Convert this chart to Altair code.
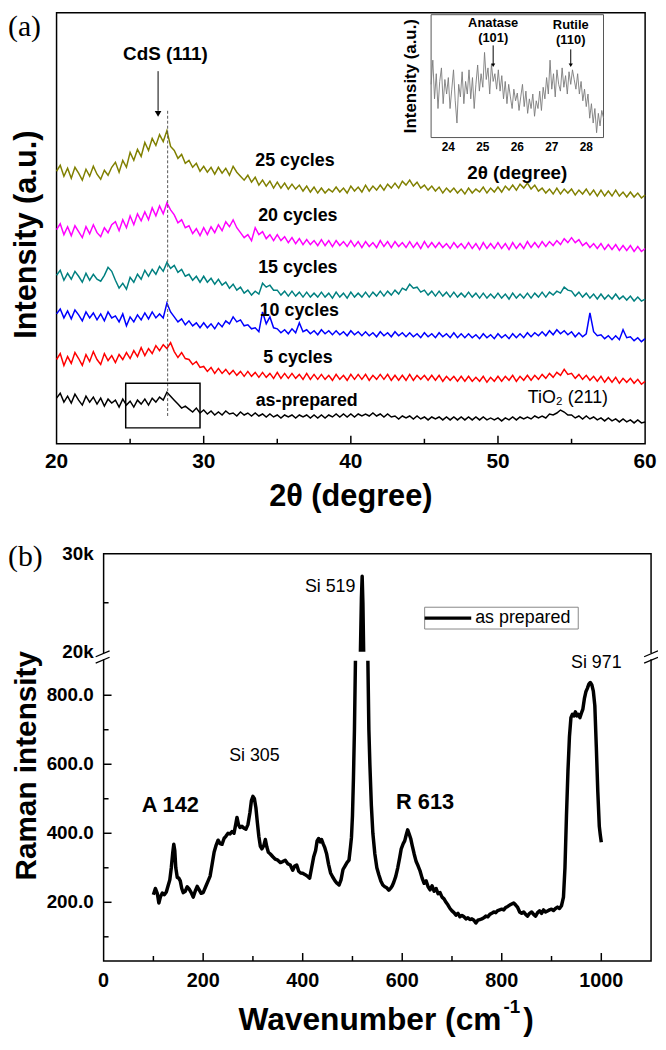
import altair as alt
import pandas as pd

FONT = "Liberation Sans"
SERIF = "Liberation Serif"

# ---------------- panel (a): XRD patterns ----------------
DEG = [round(20 + 0.25 * i, 2) for i in range(161)]

XRD_25 = [275,281,270,278, 268,279,273,266, 277,270,280,272, 267,276,271,279, 284,274,286,279,
          294,286,297,290, 304,296,308,301, 312,305,316,300, 296,288,292,283, 286,279,283,275,
          280,274,279,272, 279,273,278,271, 280,274,270,266, 271,264,269,261, 266,260,265,258,
          264,258,263,257, 262,257,261,255, 260,254,259,253, 258,253,257,254, 259,254,258,253,
          260,255,259,254, 261,255,260,256, 261,256,262,258, 263,258,265,261, 266,260,264,258,
          261,256,260,255, 259,253,258,254, 258,253,257,252, 258,253,257,254, 259,253,258,254,
          259,254,260,256, 261,256,262,258, 263,257,261,255, 258,253,257,252, 258,252,257,253,
          257,251,256,252, 257,251,256,250, 256,250,255,250, 256,250,254,249, 254,249,253,248, 251]
XRD_20 = [216,222,211,219, 210,220,214,208, 219,212,221,213, 209,218,213,221, 224,215,226,218,
          230,221,232,225, 234,226,238,230, 240,232,243,236, 231,223,226,218, 220,212,217,210,
          218,211,219,213, 221,215,224,219, 226,218,213,208, 211,205,218,211, 214,207,211,205,
          211,205,209,203, 208,202,207,201, 206,201,205,200, 206,200,205,199, 205,200,204,199,
          205,199,204,198, 204,199,203,198, 205,199,204,198, 204,199,203,198, 204,198,203,197,
          204,198,203,198, 203,198,202,197, 203,198,202,197, 203,197,202,196, 203,197,202,197,
          203,197,202,196, 203,197,202,197, 204,198,203,198, 204,199,204,200, 205,201,207,203,
          208,203,206,200, 203,198,202,197, 202,196,201,196, 201,195,200,195, 200,194,199,194, 197]
XRD_15 = [170,175,165,172, 166,174,169,163, 172,165,171,166, 164,170,178,174, 165,157,162,156,
          168,163,171,166, 175,169,176,171, 179,174,183,177, 180,173,176,169, 171,165,169,163,
          169,163,167,161, 166,160,163,157, 161,155,158,152, 155,150,154,151, 162,158,160,155,
          155,150,154,149, 154,149,153,148, 153,148,152,148, 153,148,152,147, 153,148,152,147,
          153,148,152,148, 153,148,153,149, 154,149,154,150, 155,151,157,155, 161,157,158,153,
          155,150,154,149, 154,149,153,148, 153,148,152,148, 153,148,152,147, 152,147,151,147,
          152,147,151,146, 152,147,151,147, 152,147,152,148, 153,148,153,150, 154,152,158,155,
          154,149,153,148, 152,147,151,146, 151,146,150,146, 151,146,149,145, 149,144,148,144, 146]
XRD_10 = [131,136,127,134, 126,135,130,124, 133,127,132,125, 131,124,133,127, 129,123,131,119,
          128,123,130,125, 132,126,133,127, 131,127,142,133, 128,123,126,120, 124,119,122,117,
          122,117,121,116, 122,118,124,121, 128,123,125,119, 120,116,117,113, 133,121,128,117,
          116,112,115,111, 116,112,122,113, 115,111,114,110, 115,111,114,110, 114,110,113,109,
          114,110,113,109, 113,109,112,108, 113,109,112,108, 113,109,112,108, 112,108,111,107,
          112,108,111,107, 112,108,111,107, 112,107,111,107, 111,107,110,106, 111,107,110,106,
          111,107,110,106, 111,107,111,107, 112,108,112,109, 113,109,114,110, 115,111,114,110,
          113,108,112,108, 111,132,113,109, 110,106,109,105, 109,105,115,107, 108,104,107,103, 106]
XRD_5 = [85,91,79,88, 81,92,86,79, 90,83,93,85, 80,91,84,89, 82,90,85,92,
         86,94,88,97, 89,96,91,99, 94,100,96,102, 93,87,92,86, 85,80,83,77,
         78,73,77,71, 76,71,75,70, 74,69,73,68, 73,68,72,67, 72,67,71,66,
         72,66,71,66, 71,66,70,65, 71,65,70,65, 70,65,69,64, 70,65,69,64,
         70,65,70,65, 70,64,69,65, 70,65,70,64, 69,64,69,64, 70,64,69,65,
         69,64,69,64, 69,63,68,64, 68,63,68,63, 68,63,67,63, 68,62,67,63,
         68,63,68,64, 69,63,68,64, 69,64,69,65, 70,66,71,67, 72,69,75,70,
         71,66,70,65, 69,64,68,63, 68,62,67,62, 67,61,66,62, 66,61,65,60, 63]
XRD_0 = [46,51,42,48, 41,50,44,39, 48,42,47,40, 46,38,45,41, 44,37,45,39,
         43,37,44,40, 45,39,46,42, 47,44,52,48, 44,40,36,38, 35,32,36,31,
         34,30,33,29, 32,29,33,30, 31,28,32,29, 31,28,31,28, 30,27,30,27,
         29,26,29,27, 29,26,29,27, 29,26,29,26, 29,26,29,27, 30,27,30,27,
         30,27,30,28, 30,28,31,28, 30,27,30,27, 28,25,28,26, 28,25,28,25,
         27,24,27,25, 27,24,27,24, 27,24,27,24, 27,24,27,24, 27,24,26,24,
         26,23,26,24, 27,24,27,25, 27,25,28,26, 28,26,30,29, 31,34,32,29,
         29,26,28,25, 28,25,27,24, 26,23,26,23, 25,22,25,22, 24,21,24,21, 22]

SERIES = ["25 cycles", "20 cycles", "15 cycles", "10 cycles", "5 cycles", "as-prepared"]
SERIES_COLORS = ["#808000", "#FF00FF", "#008080", "#0000FF", "#FF0000", "#000000"]
LABEL_DEG = [36.2, 36.4, 36.4, 36.5, 36.4, 37.0]
LABEL_V = [285, 230, 177, 134, 86, 43]

XA_LABELS = [20, 30, 40, 50, 60]
XA_MAJOR_IN = [30, 40, 50]
XA_MINOR_IN = [25, 35, 45, 55]

BOX_DEG = [24.7, 29.75]
BOX_V = [16, 61]
REF_DEG = 27.55
REF_V = [28, 336]
CDS_DEG = 26.9
CDS_V = [376, 336]
CDS_TEXT = (27.4, 393)
TIO2_TEXT = (54.75, 46)

# inset
INSET_DEG = [round(23.5 + 0.05 * i, 2) for i in range(101)]
INSET_V = [55, 80, 40, 66, 30, 58, 72, 35, 60, 45,
           62, 30, 50, 70, 38, 15, 55, 42, 68, 35,
           58, 45, 70, 40, 62, 30, 55, 75, 48, 66,
           52, 88, 60, 72, 45, 76, 58, 66, 50, 70,
           48, 64, 40, 58, 35, 55, 42, 30, 50, 38,
           46, 28, 42, 55, 32, 48, 25, 40, 30, 45,
           22, 38, 30, 48, 28, 52, 40, 62, 45, 80,
           50, 66, 42, 70, 55, 48, 72, 52, 64, 45,
           68, 55, 70, 60, 50, 66, 45, 58, 38, 50,
           32, 45, 20, 35, 15, 30, 5, 25, 12, 28,
           20]
INSET_TICKS = [24, 25, 26, 27, 28]
INSET_ARROWS = [25.3, 27.55]

# ---------------- panel (b): Raman spectrum ----------------
RAMAN_A_X = [100,104,108,111,114,118,122,126,130,133,136,139,141,143,145,148,151,154,157,160,
             164,168,172,176,180,184,188,192,196,200,205,210,214,218,222,226,230,234,238,242,
             246,250,254,258,262,266,268,271,274,278,282,286,290,294,297,300,303,306,309,312,
             315,318,322,325,328,331,335,340,345,350,355,360,365,370,375,380,384,388,392,396,
             400,405,410,414,418,422,426,429,432,435,438,441,444,448,452,456,460,465,469,473,
             477,481,485,489,493,496,498,500,502,504,506]
RAMAN_A_Y = [222,240,225,198,215,227,222,230,250,265,300,345,368,350,300,272,270,262,240,228,
             232,245,238,228,215,232,246,236,226,228,245,262,276,310,345,365,380,370,368,385,
             392,400,398,405,400,430,446,425,417,420,415,412,425,460,495,507,500,474,430,390,
             362,355,365,382,360,345,340,332,325,322,315,318,322,312,308,293,305,308,290,285,
             284,280,275,270,300,331,350,378,385,375,382,370,360,341,310,285,274,262,255,250,
             265,295,305,315,322,360,388,450,560,700,900]
RAMAN_B_X = [516, 518, 519.5, 521, 522.5]
RAMAN_B_Y = [20000, 25500, 27700, 25000, 20000]
RAMAN_C_X = [531,533,535,538,541,545,549,553,557,561,565,569,573,577,580,583,587,591,595,598,
             602,605,608,611,614,617,620,624,628,632,636,640,644,648,652,656,660,664,668,672,
             676,680,684,688,692,696,700,704,708,712,716,720,724,728,732,736,740,744,748,752,
             756,760,764,768,772,776,780,784,788,792,796,800,804,808,812,816,820,824,828,832,
             836,840,844,848,852,856,860,864,868,872,876,880,884,888,892,896,900,904,908,912,
             916,920,924,927,930,933,936,939,942,945,948,951,954,957,960,963,966,969,972,975,
             978,981,984,987,990,993,996,998,1000]
RAMAN_C_Y = [900,700,600,480,400,340,300,280,262,250,245,242,235,241,248,258,275,300,330,355,
             370,378,395,410,398,385,365,340,318,305,290,270,255,262,245,236,248,232,240,225,
             228,215,210,200,192,182,175,170,163,168,158,162,158,152,155,150,152,148,140,148,
             150,152,155,160,158,165,168,172,170,176,178,180,178,185,188,192,195,198,192,185,
             172,168,172,165,160,168,172,165,160,170,175,168,178,172,175,178,180,176,182,186,
             182,190,215,300,450,580,680,735,745,740,752,740,745,735,748,760,790,810,820,832,
             837,830,812,770,650,520,420,395,374]

XB_LABELS = [0, 200, 400, 600, 800, 1000]
XB_MAJOR_IN = [200, 400, 600, 800, 1000]
XB_MINOR_IN = [100, 300, 500, 700, 900]
YB_LABELS = [200, 400, 600, 800, 20000, 30000]
YB_LABEL_TEXT = ["200.0", "400.0", "600.0", "800.0", "20k", "30k"]
YB_MAJOR_IN = [200, 400, 600, 800]
YB_MINOR_IN = [100, 300, 500, 700, 25000]

RAMAN_NOTES = ["Si 305", "Si 971"]
RAMAN_NOTES_X = [303, 990]
RAMAN_NOTES_Y = [624, 893]
RAMAN_BOLD_NOTES = ["A 142", "R 613"]
RAMAN_BOLD_X = [134, 646]
RAMAN_BOLD_Y = [483, 489]

# ====================================================================
ONE = pd.DataFrame({"k": [0]})
W, H = 656, 1030

for vals in [XRD_25, XRD_20, XRD_15, XRD_10, XRD_5, XRD_0]:
    assert len(vals) == len(DEG)
assert len(INSET_V) == len(INSET_DEG)
assert len(RAMAN_A_X) == len(RAMAN_A_Y)
assert len(RAMAN_C_X) == len(RAMAN_C_Y)


def vtext(txt, x, y, size, bold=False, align="center", baseline="middle", angle=0, font=FONT):
    kw = dict(font=font, fontSize=size, align=align, baseline=baseline, color="black")
    if bold:
        kw["fontWeight"] = "bold"
    if angle:
        kw["angle"] = angle
    return alt.Chart(ONE).mark_text(**kw).encode(x=alt.value(x), y=alt.value(y), text=alt.value(txt))


def vrule(x1, x2, y1, y2, w=1.3):
    return alt.Chart(ONE).mark_rule(color="black", strokeWidth=w).encode(
        x=alt.value(x1), x2=alt.value(x2), y=alt.value(y1), y2=alt.value(y2))


def vrect(x1, x2, y1, y2, stroke=None):
    kw = {"fill": "white"}
    if stroke:
        kw.update(stroke=stroke, strokeWidth=1)
    return alt.Chart(ONE).mark_rect(**kw).encode(
        x=alt.value(x1), x2=alt.value(x2), y=alt.value(y1), y2=alt.value(y2))


# ---------------- panel (a) ----------------
xa = alt.Scale(domain=[20, 60], range=[49, 643], nice=False, zero=False)
ya = alt.Scale(domain=[0, 435], range=[435, 0], nice=False, zero=False)


def XA(f):
    return alt.X(f, scale=xa, axis=None)


def YA(f):
    return alt.Y(f, scale=ya, axis=None)


rows = []
for name, vals in zip(SERIES, [XRD_25, XRD_20, XRD_15, XRD_10, XRD_5, XRD_0]):
    for d, v in zip(DEG, vals):
        rows.append({"deg": d, "v": v, "series": name})
df_xrd = pd.DataFrame(rows)

frame_a = alt.Chart(pd.DataFrame({"d1": [20], "d2": [60], "v1": [0], "v2": [435]})).mark_rect(
    fillOpacity=0, stroke="black", strokeWidth=1.5).encode(x=XA("d1:Q"), x2="d2:Q", y=YA("v1:Q"), y2="v2:Q")

curves = alt.Chart(df_xrd).mark_line(strokeWidth=1.5).encode(
    x=XA("deg:Q"), y=YA("v:Q"),
    color=alt.Color("series:N", scale=alt.Scale(domain=SERIES, range=SERIES_COLORS), legend=None),
    detail="series:N",
)

labels = alt.Chart(pd.DataFrame({"deg": LABEL_DEG, "v": LABEL_V, "label": SERIES})).mark_text(
    font=FONT, fontWeight="bold", fontSize=18, color="black").encode(x=XA("deg:Q"), y=YA("v:Q"), text="label:N")

tio2 = alt.Chart(pd.DataFrame({"deg": [TIO2_TEXT[0]], "v": [TIO2_TEXT[1]], "t": ["TiO₂ (211)"]})).mark_text(
    font=FONT, fontSize=18, color="black").encode(x=XA("deg:Q"), y=YA("v:Q"), text="t:N")

cds = alt.Chart(pd.DataFrame({"deg": [CDS_TEXT[0]], "v": [CDS_TEXT[1]], "t": ["CdS (111)"]})).mark_text(
    font=FONT, fontSize=19, fontWeight="bold", color="black").encode(x=XA("deg:Q"), y=YA("v:Q"), text="t:N")

cds_arrow = alt.Chart(pd.DataFrame({"deg": [CDS_DEG], "v1": [CDS_V[0]], "v2": [CDS_V[1]]})).mark_rule(
    color="black", strokeWidth=1).encode(x=XA("deg:Q"), y=YA("v1:Q"), y2="v2:Q")
cds_head = alt.Chart(pd.DataFrame({"deg": [CDS_DEG], "v": [CDS_V[1] - 3]})).mark_point(
    shape="triangle-down", filled=True, size=45, color="black", opacity=1).encode(x=XA("deg:Q"), y=YA("v:Q"))

ref_line = alt.Chart(pd.DataFrame({"deg": [REF_DEG], "v1": [REF_V[0]], "v2": [REF_V[1]]})).mark_rule(
    color="#555555", strokeWidth=1, strokeDash=[3, 2]).encode(x=XA("deg:Q"), y=YA("v1:Q"), y2="v2:Q")

box = alt.Chart(pd.DataFrame({"d1": [BOX_DEG[0]], "d2": [BOX_DEG[1]], "v1": [BOX_V[0]], "v2": [BOX_V[1]]})).mark_rect(
    fillOpacity=0, stroke="black", strokeWidth=1.5).encode(x=XA("d1:Q"), x2="d2:Q", y=YA("v1:Q"), y2="v2:Q")

ticks_a_major = alt.Chart(pd.DataFrame({"deg": XA_MAJOR_IN})).mark_rule(color="black", strokeWidth=1.5).encode(
    x=XA("deg:Q"), y=alt.value(435), y2=alt.value(427))
ticks_a_minor = alt.Chart(pd.DataFrame({"deg": XA_MINOR_IN})).mark_rule(color="black", strokeWidth=1.5).encode(
    x=XA("deg:Q"), y=alt.value(435), y2=alt.value(430))

xlab_a = alt.Chart(pd.DataFrame({"deg": XA_LABELS})).mark_text(
    font=FONT, fontWeight="bold", fontSize=21, color="black").encode(
    x=XA("deg:Q"), y=alt.value(453), text=alt.Text("deg:Q", format="d"))

group_a = alt.layer(
    frame_a, curves, ref_line, box, labels, tio2, cds, cds_arrow, cds_head,
    ticks_a_major, ticks_a_minor, xlab_a,
    vtext("2θ (degree)", 346, 489, 31, bold=True),
    vtext("Intensity (a.u.)", 19, 224, 31, bold=True, angle=270),
    vtext("(a)", 0, 0, 30, align="left", baseline="top", font=SERIF),
)

# ---------------- inset ----------------
xi = alt.Scale(domain=[23.5, 28.5], range=[427, 601], nice=False, zero=False)
yi = alt.Scale(domain=[0, 127], range=[126, 2], nice=False, zero=False)


def XI(f):
    return alt.X(f, scale=xi, axis=None)


def YI(f):
    return alt.Y(f, scale=yi, axis=None)


inset_bg = alt.Chart(pd.DataFrame({"a": [23.5], "b": [28.5], "c": [0], "d": [127]})).mark_rect(
    fill="white", stroke="#555555", strokeWidth=1).encode(x=XI("a:Q"), x2="b:Q", y=YI("c:Q"), y2="d:Q")
inset_line = alt.Chart(pd.DataFrame({"ideg": INSET_DEG, "iv": INSET_V})).mark_line(
    color="#7a7a7a", strokeWidth=0.9).encode(x=XI("ideg:Q"), y=YI("iv:Q"))
inset_ticks = alt.Chart(pd.DataFrame({"ideg": INSET_TICKS})).mark_text(
    font=FONT, fontWeight="bold", fontSize=12, color="black").encode(
    x=XI("ideg:Q"), y=alt.value(136), text=alt.Text("ideg:Q", format="d"))
inset_arrows = alt.Chart(pd.DataFrame({"ideg": INSET_ARROWS, "top": [33, 37]})).mark_rule(
    color="black", strokeWidth=1).encode(x=XI("ideg:Q"), y=alt.Y("top:Q", scale=None, axis=None), y2=alt.value(52))
inset_heads = alt.Chart(pd.DataFrame({"ideg": INSET_ARROWS})).mark_point(
    shape="triangle-down", filled=True, size=18, color="black", opacity=1).encode(x=XI("ideg:Q"), y=alt.value(53))
inset_notes = alt.Chart(pd.DataFrame({
    "ideg": [25.3, 25.3, 27.55, 27.55], "t": ["Anatase", "(101)", "Rutile", "(110)"],
    "row": [10, 26, 12, 28]})).mark_text(font=FONT, fontWeight="bold", fontSize=13, color="black").encode(
    x=XI("ideg:Q"), y=alt.Y("row:Q", scale=None, axis=None), text="t:N")

group_inset = alt.layer(
    inset_bg, inset_line, inset_ticks, inset_arrows, inset_heads, inset_notes,
    vtext("2θ (degree)", 514, 162, 19, bold=True),
    vtext("Intensity (a.u.)", 407, 64, 17, bold=True, angle=270),
)

# ---------------- panel (b) ----------------
xb = alt.Scale(domain=[0, 1100], range=[96.5, 649], nice=False, zero=False)
yb = alt.Scale(domain=[30, 900, 20000, 30000], range=[957, 654, 645, 546], nice=False, zero=False)


def XB(f):
    return alt.X(f, scale=xb, axis=None)


def YB(f):
    return alt.Y(f, scale=yb, axis=None)


raman_rows = []
for seg, xs, ys in [("a", RAMAN_A_X, RAMAN_A_Y), ("b", RAMAN_B_X, RAMAN_B_Y), ("c", RAMAN_C_X, RAMAN_C_Y)]:
    for xv, yv in zip(xs, ys):
        raman_rows.append({"wn": xv, "ri": yv, "seg": seg})
df_raman = pd.DataFrame(raman_rows)

frame_b = alt.Chart(pd.DataFrame({"w1": [0], "w2": [1100], "r1": [30], "r2": [30000]})).mark_rect(
    fillOpacity=0, stroke="black", strokeWidth=1.5).encode(x=XB("w1:Q"), x2="w2:Q", y=YB("r1:Q"), y2="r2:Q")

raman = alt.Chart(df_raman).mark_line(color="black", strokeWidth=3.5, strokeJoin="round").encode(
    x=XB("wn:Q"), y=YB("ri:Q"), detail="seg:N")

ticks_bx_major = alt.Chart(pd.DataFrame({"wn": XB_MAJOR_IN})).mark_rule(color="black", strokeWidth=1.5).encode(
    x=XB("wn:Q"), y=alt.value(957), y2=alt.value(949))
ticks_bx_minor = alt.Chart(pd.DataFrame({"wn": XB_MINOR_IN})).mark_rule(color="black", strokeWidth=1.5).encode(
    x=XB("wn:Q"), y=alt.value(957), y2=alt.value(952))
ticks_by_major = alt.Chart(pd.DataFrame({"ri": YB_MAJOR_IN})).mark_rule(color="black", strokeWidth=1.5).encode(
    y=YB("ri:Q"), x=alt.value(96.5), x2=alt.value(104.5))
ticks_by_minor = alt.Chart(pd.DataFrame({"ri": YB_MINOR_IN})).mark_rule(color="black", strokeWidth=1.5).encode(
    y=YB("ri:Q"), x=alt.value(96.5), x2=alt.value(101.5))

xlab_b = alt.Chart(pd.DataFrame({"wn": XB_LABELS})).mark_text(
    font=FONT, fontWeight="bold", fontSize=20, color="black").encode(
    x=XB("wn:Q"), y=alt.value(977), text=alt.Text("wn:Q", format="d"))
ylab_b = alt.Chart(pd.DataFrame({"ri": YB_LABELS, "lab": YB_LABEL_TEXT})).mark_text(
    font=FONT, fontWeight="bold", fontSize=19, align="right", color="black").encode(
    x=alt.value(86.5), y=YB("ri:Q"), text="lab:N")

notes_reg = alt.Chart(pd.DataFrame({"wn": RAMAN_NOTES_X, "ri": RAMAN_NOTES_Y, "t": RAMAN_NOTES})).mark_text(
    font=FONT, fontSize=18, color="black").encode(x=XB("wn:Q"), y=YB("ri:Q"), text="t:N")
notes_bold = alt.Chart(pd.DataFrame({"wn": RAMAN_BOLD_X, "ri": RAMAN_BOLD_Y, "t": RAMAN_BOLD_NOTES})).mark_text(
    font=FONT, fontSize=22, fontWeight="bold", color="black").encode(x=XB("wn:Q"), y=YB("ri:Q"), text="t:N")
note_519 = alt.Chart(pd.DataFrame({"wn": [506], "ri": [26600], "t": ["Si 519"]})).mark_text(
    font=FONT, fontSize=18, align="right", color="black").encode(x=XB("wn:Q"), y=YB("ri:Q"), text="t:N")

breaks = [
    vrect(93.5, 99.5, 646.5, 652.5), vrect(646, 652, 646.5, 652.5),
    vrule(88.5, 102.5, 650, 644), vrule(88.5, 102.5, 656.5, 650.5),
    vrule(642, 656, 650, 644), vrule(642, 656, 656.5, 650.5),
]

group_b = alt.layer(
    frame_b,
    vrect(420.5, 575.5, 600, 622, stroke="#888888"),
    vrule(420.5, 467.5, 611, 611, w=3.5),
    vtext("as prepared", 471.5, 611, 18, align="left"),
    raman, *breaks,
    ticks_bx_major, ticks_bx_minor, ticks_by_major, ticks_by_minor,
    xlab_b, ylab_b, notes_reg, notes_bold, note_519,
    vtext("Raman intensity", 19, 760, 30, bold=True, angle=270),
    vtext("Wavenumber (cm", 498, 1027, 32, bold=True, align="right", baseline="alphabetic"),
    vtext("-1", 500, 1010, 19, bold=True, align="left", baseline="alphabetic"),
    vtext(")", 520, 1027, 32, bold=True, align="left", baseline="alphabetic"),
    vtext("(b)", 0, 549, 30, align="left", font=SERIF),
)

chart = alt.layer(group_a, group_inset, group_b).resolve_scale(
    x="independent", y="independent"
).properties(
    width=W, height=H, padding=0, autosize=alt.AutoSizeParams(type="none")
).configure_view(stroke=None)

chart.save("out.html", embed_options={"renderer": "svg", "actions": False})
